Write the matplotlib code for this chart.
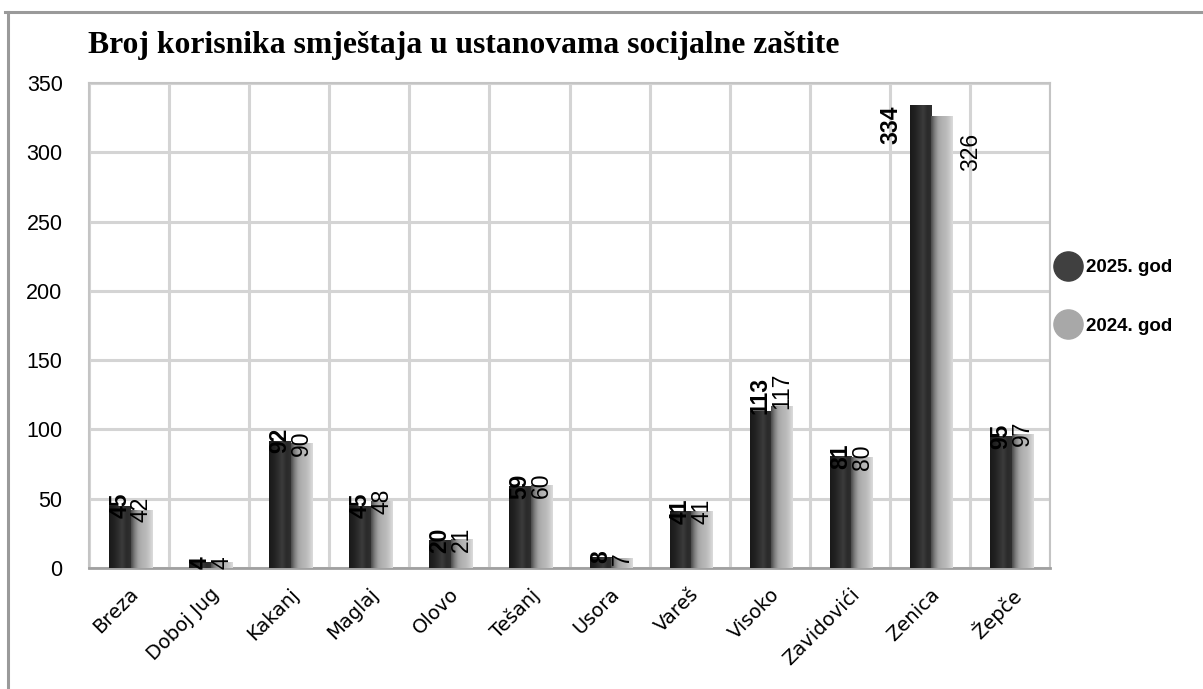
import matplotlib
matplotlib.use("Agg")
import matplotlib.pyplot as plt
import numpy as np
from matplotlib.colors import LinearSegmentedColormap
from matplotlib.lines import Line2D
from matplotlib.transforms import ScaledTranslation
from matplotlib import font_manager as fm

# ---------------- data ----------------
categories = ["Breza", "Doboj Jug", "Kakanj", "Maglaj", "Olovo", "Tešanj",
              "Usora", "Vareš", "Visoko", "Zavidovići", "Zenica", "Žepče"]
values_2025 = [45, 4, 92, 45, 20, 59, 8, 41, 113, 81, 334, 95]
values_2024 = [42, 4, 90, 48, 21, 60, 7, 41, 117, 80, 326, 97]
series_names = ["2025. god", "2024. god"]
title = "Broj korisnika smještaja u ustanovama socijalne zaštite"
y_ticks = [0, 50, 100, 150, 200, 250, 300, 350]

# ---------------- fonts ----------------
names = {f.name for f in fm.fontManager.ttflist}
narrow = "Liberation Sans Narrow" if "Liberation Sans Narrow" in names else "Liberation Sans"

W, H = 1203, 689
fig = plt.figure(figsize=(W / 100, H / 100), dpi=100)
fig.patch.set_facecolor("white")

# outer frame lines (top and left)
fig.add_artist(Line2D([5 / W, 1.0], [1 - 12 / H, 1 - 12 / H], color="#9a9a9a", lw=2.2))
fig.add_artist(Line2D([8 / W, 8 / W], [0, 1 - 12 / H], color="#9a9a9a", lw=2.2))

left, right = 89, 1050
y0, y350 = 568, 83
ax = fig.add_axes([left / W, (H - y0) / H, (right - left) / W, (y0 - y350) / H])

n = len(categories)
x = np.arange(n)
bw = 0.27
shift = 0.02

# grid
ax.set_yticks(y_ticks)
ax.set_xticks(np.arange(-0.5, n, 1.0), minor=True)
ax.grid(True, which="major", axis="y", color="#d4d4d4", lw=2.2, zorder=0)
ax.grid(True, which="minor", axis="x", color="#d4d4d4", lw=2.2, zorder=0)
for s in ax.spines.values():
    s.set_color("#c4c4c4")
    s.set_linewidth(1.5)
ax.spines["bottom"].set_color("#a0a0a0")
ax.spines["bottom"].set_linewidth(2)

bars1 = ax.bar(x - bw / 2 + shift, values_2025, bw, color="#2a2a2a", zorder=3, lw=0)
bars2 = ax.bar(x + bw / 2 + shift, values_2024, bw, color="#b0b0b0", zorder=3, lw=0)

cmap_dark = LinearSegmentedColormap.from_list(
    "d", ["#1a1a1a", "#202020", "#2c2c2c", "#3c3c3c", "#2a2a2a", "#303030"])
cmap_light = LinearSegmentedColormap.from_list(
    "l", ["#4a4a4a", "#808080", "#a4a4a4", "#b2b2b2", "#b8b8b8", "#c6c6c6", "#dcdcdc"])
grad = np.linspace(0, 1, 64).reshape(1, -1)
for bars, cm in ((bars1, cmap_dark), (bars2, cmap_light)):
    for b in bars:
        bx, by = b.get_x(), b.get_y()
        bwid, bh = b.get_width(), b.get_height()
        im = ax.imshow(grad, cmap=cm, aspect="auto", extent=[bx, bx + bwid, by, by + bh],
                       zorder=4, interpolation="bicubic")
        im.set_clip_path(b)
ax.set_xlim(-0.5, n - 0.5)
ax.set_ylim(0, 350)

# data labels
for i, (b1, b2) in enumerate(zip(bars1, bars2)):
    for b, v, wgt in ((b1, values_2025[i], "bold"), (b2, values_2024[i], "normal")):
        cx = b.get_x() + b.get_width() / 2
        dx, dy, va = 0, 0, "center"
        if v >= 100:
            va, dy = "bottom", -3
        if categories[i] == "Zenica":
            if b is b1:
                dx, dy, va = -30, -20, "center"
            else:
                dx, dy, va = 28, -36, "center"
        ax.annotate(str(v), (cx, v), xytext=(dx, dy), textcoords="offset pixels",
                    rotation=90, ha="center", va=va, fontsize=16.5, fontweight=wgt,
                    family=narrow, color="black", zorder=6)

# ticks
ax.set_xticks(x)
ax.set_xticklabels(categories, rotation=45, ha="right", rotation_mode="anchor",
                   fontsize=14, family="DejaVu Sans")
off = ScaledTranslation(14 / 100, 0, fig.dpi_scale_trans)
for lab in ax.get_xticklabels():
    lab.set_transform(lab.get_transform() + off)
ax.tick_params(axis="x", which="both", length=0, pad=12)
ax.tick_params(axis="y", length=0, pad=19, labelsize=15.5)
for lab in ax.get_yticklabels():
    lab.set_family(narrow)

# title
fig.text(88 / W, 1 - 46 / H, title, ha="left", va="center", fontsize=22.8,
         fontweight="bold", family="Liberation Serif")

# legend
handles = [Line2D([], [], ls="", marker="o", ms=21, mfc="#404040", mec="#404040"),
           Line2D([], [], ls="", marker="o", ms=21, mfc="#a8a8a8", mec="#a8a8a8")]
leg = fig.legend(handles, series_names, loc="center left",
                 bbox_to_anchor=(1036 / W, 1 - 297 / H), frameon=False,
                 prop={"family": narrow, "weight": "bold", "size": 13.5},
                 handletextpad=0.15, labelspacing=2.2, handlelength=1.6)

fig.savefig("out.png", dpi=100, facecolor="white")
